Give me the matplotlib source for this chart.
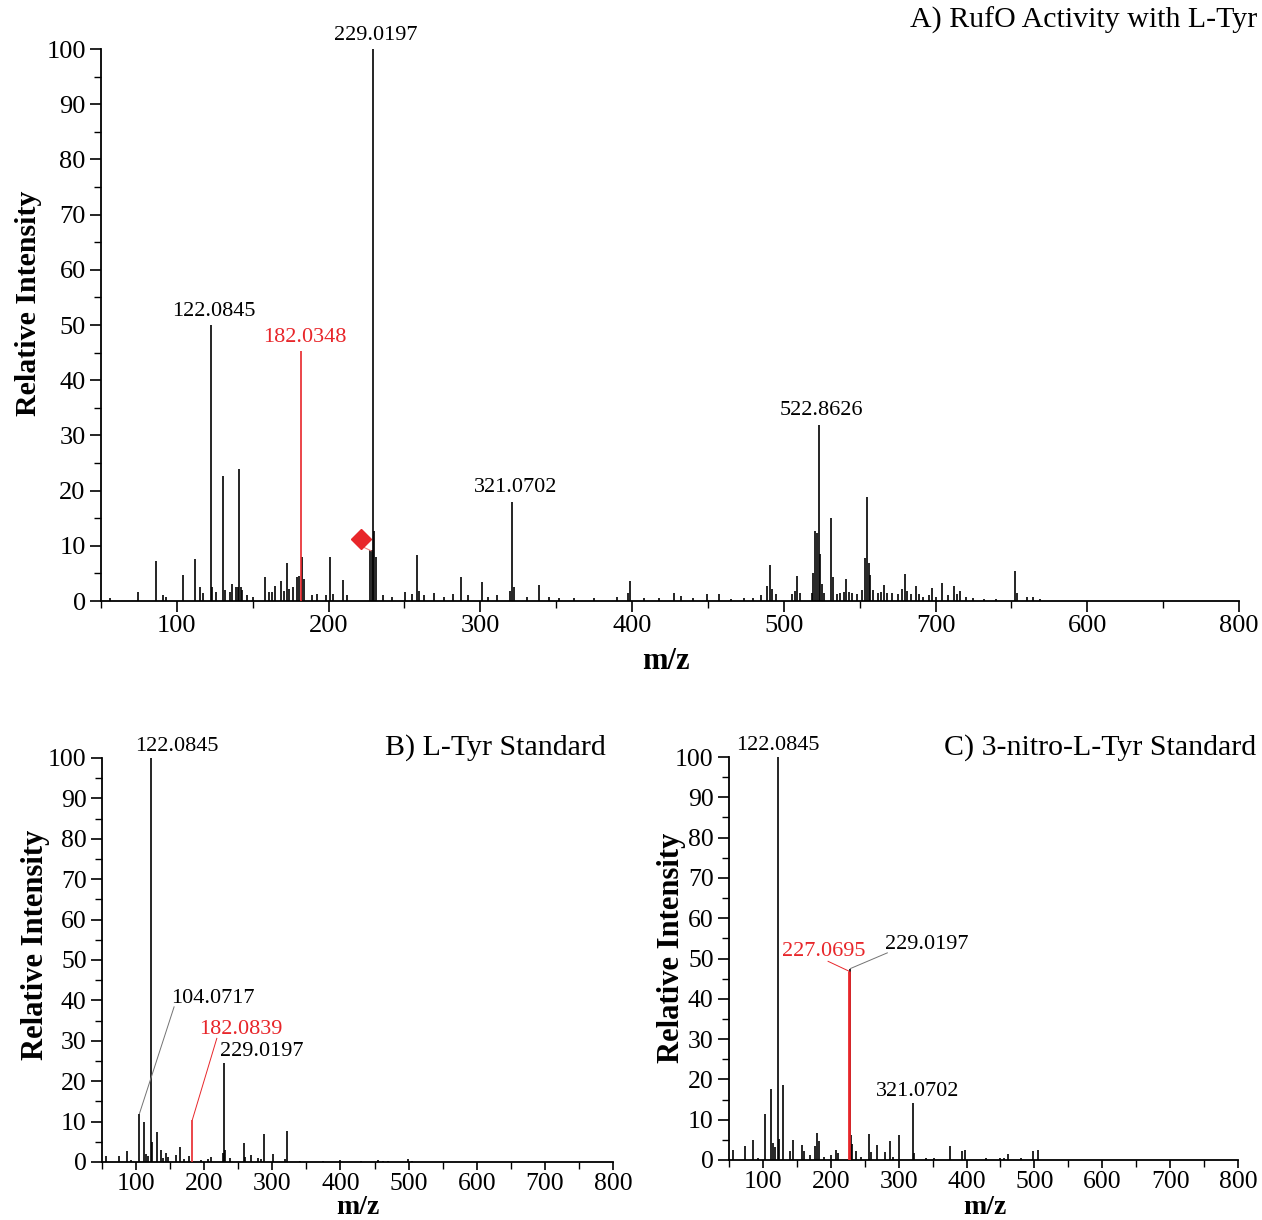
import matplotlib.pyplot as plt
from matplotlib.ticker import MultipleLocator

plt.rcParams['font.family'] = ['Liberation Serif', 'DejaVu Serif']

# ---- panel A: RufO activity with L-Tyr ----
a_mz = [56.1, 74.1, 86.2, 91.0, 92.6, 104.0, 112.1, 115.4, 117.5, 122.2, 123.0, 125.9,
        130.4, 131.5, 135.3, 136.4, 139.2, 140.0, 141.2, 142.0, 143.2, 146.0, 150.0,
        158.2, 161.0, 162.9, 164.8, 168.5, 170.7, 172.6, 174.0, 176.5, 179.5, 180.5,
        182.7, 183.6, 188.9, 192.2, 198.0, 201.0, 203.0, 209.8, 212.0,
        227.4, 228.5, 229.2, 229.9, 231.0, 236.0, 242.0, 250.6, 255.0, 258.0, 259.5,
        263.0, 269.3, 276.0, 282.0, 287.0, 292.0, 301.1, 305.0, 311.0, 319.5, 321.1,
        322.5, 331.0, 338.7, 345.0, 352.0, 362.0, 375.0, 390.0, 397.5, 398.9, 408.0,
        418.0, 427.9, 432.3, 440.0, 449.4, 457.1, 465.0, 473.6, 480.0, 485.0, 489.0,
        491.2, 492.3, 495.0, 505.5, 507.6, 508.8, 510.5, 518.5, 519.5, 520.8, 522.0,
        522.9, 524.1, 525.2, 526.5, 531.4, 532.3, 535.0, 537.3, 539.5, 541.1, 542.9,
        545.0, 548.0, 551.5, 553.3, 554.9, 556.0, 557.1, 559.0, 562.0, 564.0, 565.9,
        568.0, 571.0, 575.0, 578.0, 579.7, 581.5, 584.0, 586.8, 589.0, 592.0, 596.0,
        597.8, 600.0, 604.4, 608.0, 612.0, 614.0, 616.4, 620.0, 625.0, 632.0, 640.0,
        652.7, 653.4, 660.4, 664.0, 669.0]
a_int = [0.5, 1.7, 7.2, 1.0, 0.8, 4.7, 7.6, 2.5, 1.5, 50.0, 2.5, 1.7,
         22.6, 2.0, 1.7, 3.0, 2.5, 2.5, 23.9, 2.5, 2.0, 1.0, 0.8,
         4.4, 1.7, 1.7, 2.7, 3.7, 1.9, 6.8, 2.1, 2.6, 4.3, 4.6,
         8.0, 4.0, 1.0, 1.2, 1.0, 7.9, 1.2, 3.8, 1.0,
         9.2, 9.2, 100.0, 12.7, 8.0, 1.0, 0.8, 1.7, 1.2, 8.3, 1.9,
         1.0, 1.5, 0.8, 1.2, 4.4, 1.0, 3.4, 0.7, 1.0, 1.8, 18.0,
         2.5, 0.8, 2.9, 0.8, 0.6, 0.5, 0.6, 0.8, 1.5, 3.6, 0.6,
         0.5, 1.4, 0.9, 0.5, 1.3, 1.2, 0.4, 0.5, 0.6, 1.0, 2.7,
         6.5, 2.2, 1.2, 1.2, 1.8, 4.6, 1.5, 1.5, 5.0, 12.6, 12.4,
         31.9, 8.6, 3.0, 1.5, 15.0, 4.4, 1.2, 1.4, 1.7, 3.9, 1.6,
         1.5, 1.2, 2.0, 7.7, 18.9, 6.9, 4.7, 2.0, 1.5, 1.6, 2.9,
         1.4, 1.5, 1.2, 2.2, 4.9, 1.8, 1.3, 2.8, 1.2, 0.8, 1.0,
         2.4, 0.8, 3.2, 1.0, 2.7, 1.2, 1.9, 0.8, 0.5, 0.4, 0.3,
         5.5, 1.5, 0.8, 0.8, 0.4]
a_red_mz = [182.0348]
a_red_int = [45.3]
a_labels = [('122.0845', 122.2, 50.0, 'black'),
            ('182.0348', 182.0, 45.3, '#e8262a'),
            ('229.0197', 229.2, 100.0, 'black'),
            ('321.0702', 321.1, 18.0, 'black'),
            ('522.8626', 522.9, 31.9, 'black')]
a_diamond = (221.6, 11.2)
a_xticks = [100, 200, 300, 400, 500, 600, 700, 800]
a_xtick_labels = ['100', '200', '300', '400', '500', '700', '600', '800']

# ---- panel B: L-Tyr standard ----
b_mz = [56.0, 75.0, 86.0, 92.0, 105.0, 112.0, 115.0, 118.0, 122.3, 124.0, 130.7,
        136.0, 140.0, 144.0, 147.0, 159.0, 165.0, 170.0, 177.0, 195.0, 205.0,
        209.6, 227.5, 229.3, 231.0, 238.0, 258.6, 260.0, 268.8, 279.5, 284.0,
        287.3, 301.0, 318.0, 321.4, 340.0, 375.0, 400.0, 430.0, 455.0, 462.0,
        470.0, 499.5, 505.0]
b_int = [1.4, 1.4, 2.6, 0.6, 12.0, 9.9, 2.0, 1.5, 100.0, 5.0, 7.4,
         2.9, 1.0, 2.2, 1.2, 1.8, 3.7, 0.8, 1.6, 0.5, 0.8,
         1.2, 2.2, 24.4, 3.0, 1.0, 4.8, 1.2, 1.7, 1.0, 0.8,
         6.9, 1.9, 0.8, 7.6, 0.3, 0.3, 0.4, 0.3, 0.4, 0.3,
         0.3, 0.8, 0.3]
b_red_mz = [182.0839]
b_red_int = [10.5]

# ---- panel C: 3-nitro-L-Tyr standard ----
c_mz = [55.2, 73.3, 84.9, 92.0, 103.5, 111.7, 114.6, 118.0, 121.6, 123.3, 129.1,
        140.2, 143.7, 157.0, 161.0, 169.8, 176.8, 180.3, 182.0, 190.0, 200.7,
        207.6, 210.0, 228.8, 229.8, 231.0, 237.3, 245.0, 257.0, 258.8, 268.7,
        279.2, 286.8, 292.0, 300.7, 321.1, 322.8, 340.0, 352.0, 375.2, 393.8,
        397.9, 428.7, 449.0, 455.0, 460.7, 480.0, 497.4, 505.5]
c_int = [2.6, 3.5, 5.0, 0.6, 11.4, 17.5, 4.1, 3.3, 100.0, 5.2, 18.6,
         2.2, 5.0, 3.7, 2.2, 1.2, 3.5, 6.6, 4.8, 0.8, 1.2,
         2.5, 1.7, 47.5, 6.2, 3.9, 2.2, 0.8, 6.4, 2.0, 3.7,
         2.1, 4.7, 0.8, 6.2, 14.2, 1.7, 0.4, 0.4, 3.5, 2.3,
         2.6, 0.6, 0.6, 0.5, 1.5, 0.4, 2.3, 2.5]
c_red_mz = [227.0695]
c_red_int = [46.9]

RED = '#e8262a'


def style_axis(ax, xticks, xticklabels=None, labelsize=19, xlen=8):
    ax.set_xlim(50, 800)
    ax.set_ylim(0, 100)
    ax.spines['top'].set_visible(False)
    ax.spines['right'].set_visible(False)
    for s in ['left', 'bottom']:
        ax.spines[s].set_linewidth(1.3)
    ax.set_xticks(xticks)
    if xticklabels is not None:
        ax.set_xticklabels(xticklabels)
    ax.xaxis.set_minor_locator(MultipleLocator(50))
    ax.yaxis.set_major_locator(MultipleLocator(10))
    ax.yaxis.set_minor_locator(MultipleLocator(5))
    ax.tick_params(axis='both', which='major', direction='out', length=8,
                   width=1.2, labelsize=labelsize, pad=3)
    ax.tick_params(axis='x', which='major', pad=2, length=xlen)
    ax.tick_params(axis='both', which='minor', direction='out', length=5,
                   width=1.0)


def spectrum(ax, mz, inten, red_mz, red_int, red_lw=1.2):
    ax.vlines(mz, 0, inten, colors='black', lw=1.2, zorder=2)
    ax.vlines(red_mz, 0, red_int, colors=RED, lw=red_lw, zorder=3)


fig = plt.figure(figsize=(12.62, 12.20), dpi=100)

# A
axA = fig.add_axes([101 / 1262, 1 - 601 / 1220, 1138 / 1262, 552 / 1220])
style_axis(axA, a_xticks, a_xtick_labels)
spectrum(axA, a_mz, a_int, a_red_mz, a_red_int)
for txt, x, y, col in a_labels:
    axA.text(x + 2, y + 0.8, txt, color=col, fontsize=16, ha='center', va='bottom')
axA.plot([a_diamond[0] + 1, 228.0], [a_diamond[1] - 1.4, 9.1], color='#f08080', lw=0.8)
axA.plot(*a_diamond, marker='D', color=RED, markersize=10, zorder=4)
axA.set_ylabel('Relative Intensity', fontsize=21.5, fontweight='bold')
axA.yaxis.set_label_coords(-0.052, 0.54)
axA.set_xlabel('m/z', fontsize=22, fontweight='bold')
axA.xaxis.set_label_coords(0.496, -0.083)
fig.text(1257 / 1262, 1 - 20 / 1220, 'A) RufO Activity with L-Tyr',
         fontsize=21.5, ha='right', va='center')

# B
axB = fig.add_axes([102 / 1262, 1 - 1162 / 1220, 511 / 1262, 404 / 1220])
style_axis(axB, a_xticks, labelsize=18.5, xlen=6)
spectrum(axB, b_mz, b_int, b_red_mz, b_red_int)
axB.text(99, 100.5, '122.0845', fontsize=16, ha='left', va='bottom')
axB.plot([105.0, 155.8], [12.0, 38.4], color='0.45', lw=0.7)
axB.text(151.5, 38.0, '104.0717', fontsize=16, ha='left', va='bottom')
axB.plot([182.7, 218.5], [10.5, 30.6], color=RED, lw=0.7)
axB.text(193.0, 30.4, '182.0839', fontsize=16, color=RED, ha='left', va='bottom')
axB.text(222.5, 25.0, '229.0197', fontsize=16, ha='left', va='bottom')
axB.set_ylabel('Relative Intensity', fontsize=22, fontweight='bold')
axB.yaxis.set_label_coords(-0.102, 0.537)
axB.set_xlabel('m/z', fontsize=20, fontweight='bold', va='bottom')
axB.xaxis.set_label_coords(0.50, -0.143)
fig.text(606 / 1262, 1 - 748 / 1220, 'B) L-Tyr Standard',
         fontsize=21.5, ha='right', va='center')

# C
axC = fig.add_axes([729 / 1262, 1 - 1160 / 1220, 509 / 1262, 403 / 1220])
style_axis(axC, a_xticks, labelsize=18.5, xlen=6)
spectrum(axC, c_mz, c_int, c_red_mz, c_red_int, red_lw=2.0)
axC.text(122.0, 100.5, '122.0845', fontsize=16, ha='center', va='bottom')
axC.plot([196.0, 226.3], [49.3, 46.9], color=RED, lw=0.7)
axC.text(190.0, 49.3, '227.0695', fontsize=16, color=RED, ha='center', va='bottom')
axC.plot([228.8, 283.3], [47.5, 51.4], color='0.45', lw=0.7)
axC.text(280.4, 51.0, '229.0197', fontsize=16, ha='left', va='bottom')
axC.text(328.6, 14.6, '321.0702', fontsize=16, ha='center', va='bottom')
axC.set_ylabel('Relative Intensity', fontsize=22, fontweight='bold')
axC.yaxis.set_label_coords(-0.085, 0.527)
axC.set_xlabel('m/z', fontsize=20, fontweight='bold', va='bottom')
axC.xaxis.set_label_coords(0.503, -0.148)
fig.text(1256 / 1262, 1 - 748 / 1220, 'C) 3-nitro-L-Tyr Standard',
         fontsize=21.5, ha='right', va='center')

fig.savefig('out.png', dpi=100)
